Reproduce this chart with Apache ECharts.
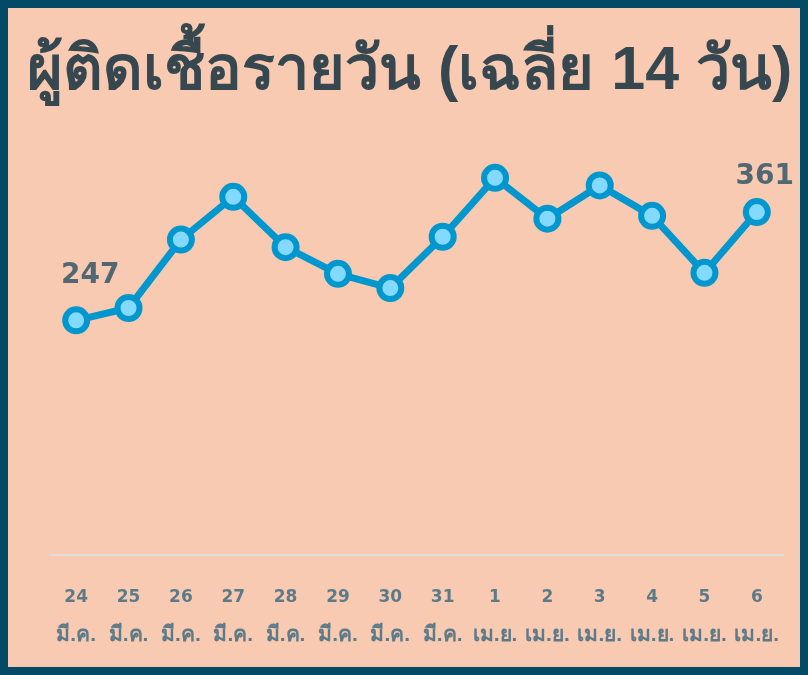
<!DOCTYPE html>
<html>
<head>
    <meta charset="utf-8">
    <title>ผู้ติดเชื้อรายวัน</title>
    <script src="https://cdnjs.cloudflare.com/ajax/libs/echarts/6.0.0/echarts.min.js"></script>
    <style>
        html, body {
            margin: 0;
            padding: 0;
            background: #f8cab1;
        }
        #chart {
            width: 808px;
            height: 675px;
        }
    </style>
</head>
<body>
    <div id="chart"></div>

    <script>
        const days = ['24', '25', '26', '27', '28', '29', '30', '31', '1', '2', '3', '4', '5', '6'];
        const months = ['มี.ค.', 'มี.ค.', 'มี.ค.', 'มี.ค.', 'มี.ค.', 'มี.ค.', 'มี.ค.', 'มี.ค.',
            'เม.ย.', 'เม.ย.', 'เม.ย.', 'เม.ย.', 'เม.ย.', 'เม.ย.'];
        const cases = [247, 260, 332, 377, 324, 296, 281, 335, 397, 354, 389, 357, 297, 361];

        const titleText = 'ผู้ติดเชื้อรายวัน (เฉลี่ย 14 วัน)';
        const labelColor = '#5d7a89';

        const chart = echarts.init(document.getElementById('chart'));

        const lastIndex = cases.length - 1;

        chart.setOption({
            backgroundColor: '#f8cab1',
            animation: false,
            title: {
                text: titleText,
                left: 22,
                top: 37,
                textStyle: {
                    fontSize: 61,
                    fontWeight: 'bold',
                    color: '#37474f',
                    fontFamily: 'sans-serif'
                }
            },
            grid: {
                left: 50,
                right: 25,
                top: 175,
                bottom: 120
            },
            xAxis: {
                type: 'category',
                data: days.map((d, i) => d + '\n' + months[i]),
                axisLine: {
                    lineStyle: { color: '#dcdcdc', width: 2 }
                },
                axisTick: { show: false },
                axisLabel: {
                    interval: 0,
                    margin: 30,
                    color: labelColor,
                    fontWeight: 'bold',
                    formatter: function (value) {
                        const parts = value.split('\n');
                        return '{d|' + parts[0] + '}\n{m|' + parts[1] + '}';
                    },
                    rich: {
                        d: {
                            fontSize: 17,
                            fontWeight: 'bold',
                            color: labelColor,
                            fontFamily: 'DejaVu Sans, sans-serif',
                            lineHeight: 26
                        },
                        m: {
                            fontSize: 21,
                            fontWeight: 'bold',
                            color: labelColor,
                            fontFamily: 'sans-serif',
                            lineHeight: 48
                        }
                    }
                }
            },
            yAxis: {
                type: 'value',
                min: 0,
                max: 400,
                show: false,
                splitLine: { show: false }
            },
            graphic: [{
                type: 'rect',
                shape: { x: 4, y: 4, width: 800, height: 667 },
                style: { fill: 'none', stroke: '#034a66', lineWidth: 8 },
                z: 100
            }],
            series: [{
                type: 'line',
                data: cases.map((v, i) => ({
                    value: v,
                    label: {
                        show: i === 0 || i === lastIndex,
                        position: 'top',
                        offset: i === 0 ? [14, -12] : [8, -2]
                    }
                })),
                symbol: 'circle',
                symbolSize: 22,
                lineStyle: { color: '#0097cf', width: 7 },
                itemStyle: {
                    color: '#84d9ff',
                    borderColor: '#0097cf',
                    borderWidth: 6
                },
                label: {
                    color: '#506873',
                    fontSize: 28,
                    fontWeight: 'bold',
                    fontFamily: 'DejaVu Sans, sans-serif'
                }
            }]
        });
    </script>
</body>
</html>
